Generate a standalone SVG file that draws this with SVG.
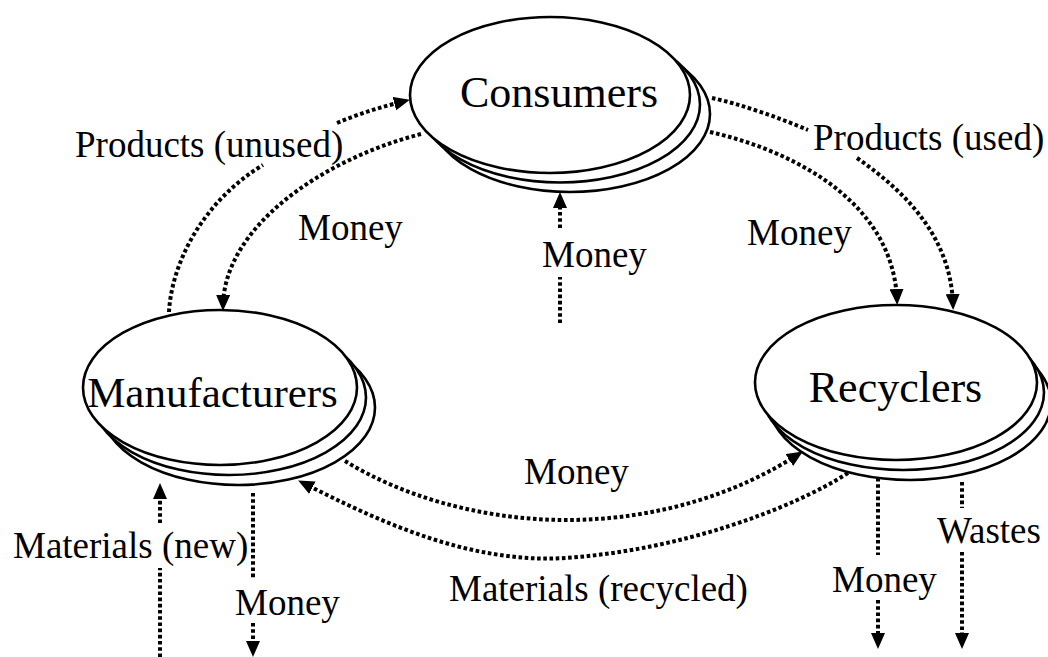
<svg xmlns="http://www.w3.org/2000/svg" width="1048" height="657" viewBox="0 0 1048 657">
<style>
.node{fill:#fff;stroke:#000;stroke-width:2.6}
.lbl{font-family:"Liberation Serif","Times New Roman",serif;font-size:44px;fill:#000}
.t{font-family:"Liberation Serif","Times New Roman",serif;font-size:37px;fill:#000}
.c{fill:none;stroke:#000;stroke-width:4;stroke-dasharray:3.6 2.6}
.a{marker-end:url(#arr)}
</style>
<defs>
<marker id="arr" markerUnits="userSpaceOnUse" viewBox="0 0 16 14" refX="11" refY="7" markerWidth="16" markerHeight="14" orient="auto">
<path d="M0,0 L16,7 L0,14 z" fill="#000"/>
</marker>
</defs>
<rect width="1048" height="657" fill="#fff"/>
<g id="consumers">
<ellipse class="node" cx="570" cy="114" rx="140" ry="78"/>
<ellipse class="node" cx="560" cy="104.5" rx="140" ry="78"/>
<ellipse class="node" cx="550" cy="95" rx="140" ry="78"/>
<text class="lbl" x="559" y="107" text-anchor="middle">Consumers</text>
</g>
<g id="manufacturers">
<ellipse class="node" cx="238" cy="407.5" rx="137" ry="77.5"/>
<ellipse class="node" cx="229" cy="397.5" rx="137" ry="77.5"/>
<ellipse class="node" cx="220" cy="387.5" rx="137" ry="77.5"/>
<text class="lbl" x="212.5" y="407" text-anchor="middle" style="font-size:43px">Manufacturers</text>
</g>
<g id="recyclers">
<ellipse class="node" cx="910" cy="402.5" rx="141" ry="77.5"/>
<ellipse class="node" cx="903" cy="392.5" rx="141" ry="77.5"/>
<ellipse class="node" cx="896" cy="382.5" rx="141" ry="77.5"/>
<text class="lbl" x="895.5" y="402" text-anchor="middle">Recyclers</text>
</g>
<g id="connectors">
<path class="c a" d="M169,312 C172,260 205,200 263,165 M337,123 C360,113 385,106 405,101"/>
<path class="c a" d="M421,134 C320,160 224,228 223,306"/>
<path class="c" d="M560,323 L560,277"/>
<path class="c a" d="M560,228 L560,197"/>
<path class="c a" d="M712,98 C740,104 780,118 808,130 M857,158 C910,195 951,240 953,305"/>
<path class="c a" d="M710,132 C790,150 893,200 897,300"/>
<path class="c a" d="M345,461 C400,495 480,520 566,520 C660,520 740,492 798.6,454.1"/>
<path class="c a" d="M848,473 C790,510 680,550 566,558 C470,564 380,522 302.6,482.7"/>
<path class="c" d="M160,657 L160,568"/>
<path class="c a" d="M160,523 L160,488"/>
<path class="c" d="M253,493 L253,578"/>
<path class="c a" d="M253,623 L253,652"/>
<path class="c" d="M878,478 L878,555"/>
<path class="c a" d="M878,600 L878,644"/>
<path class="c" d="M962,482 L962,508"/>
<path class="c a" d="M962,552 L962,644"/>
<text class="t" x="75" y="157">Products (unused)</text>
<text class="t" x="298" y="240">Money</text>
<text class="t" x="542" y="267">Money</text>
<text class="t" x="813" y="150">Products (used)</text>
<text class="t" x="747" y="245">Money</text>
<text class="t" x="524" y="484">Money</text>
<text class="t" x="449" y="601">Materials (recycled)</text>
<text class="t" x="13" y="558">Materials (new)</text>
<text class="t" x="235" y="615">Money</text>
<text class="t" x="832" y="592">Money</text>
<text class="t" x="937" y="543">Wastes</text>
</g>
</svg>
